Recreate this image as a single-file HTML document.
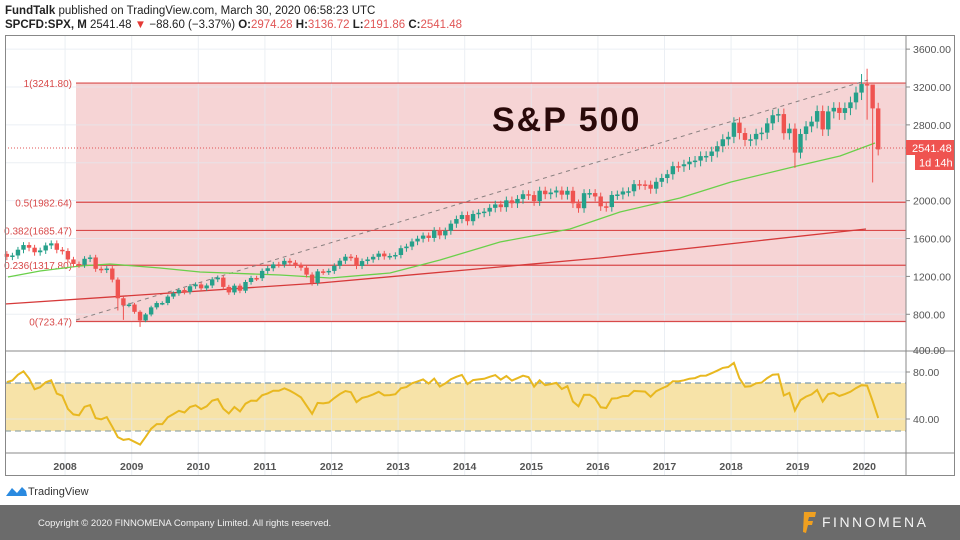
<!DOCTYPE html>
<html><head><meta charset="utf-8"><style>
html,body{margin:0;padding:0;background:#fff;width:960px;height:540px;overflow:hidden;font-family:"Liberation Sans",sans-serif}
svg{position:absolute;left:0;top:0}
</style></head><body>
<svg id="s" width="960" height="540" xmlns="http://www.w3.org/2000/svg" font-family="Liberation Sans, sans-serif">
<rect x="0" y="0" width="960" height="540" fill="#fff"/>
<text x="5" y="14" font-size="11.5" fill="#222"><tspan font-weight="bold">FundTalk</tspan> published on TradingView.com, March 30, 2020 06:58:23 UTC</text>
<text x="5" y="28" font-size="11.5" fill="#222"><tspan font-weight="bold">SPCFD:SPX, M</tspan>  2541.48 <tspan fill="#e53935">▼</tspan> −88.60 (−3.37%) <tspan font-weight="bold">O:</tspan><tspan fill="#e05555">2974.28</tspan> <tspan font-weight="bold">H:</tspan><tspan fill="#e05555">3136.72</tspan> <tspan font-weight="bold">L:</tspan><tspan fill="#e05555">2191.86</tspan> <tspan font-weight="bold">C:</tspan><tspan fill="#e05555">2541.48</tspan></text>
<rect x="76" y="83" width="830" height="238" fill="#f5cfd0" opacity="0.9"/>
<rect x="5" y="383" width="901" height="48" fill="#f7e3a8"/>
<g id="grid" opacity="0.7"></g>
<g id="fib"></g>
<line x1="5" y1="383" x2="906" y2="383" stroke="#7a9cb0" stroke-width="1.3" stroke-dasharray="6,4"/>
<line x1="5" y1="431" x2="906" y2="431" stroke="#9aa" stroke-width="1.3" stroke-dasharray="6,4"/>
<line x1="76" y1="320" x2="868" y2="80" stroke="#8a8080" stroke-width="1" stroke-dasharray="4,4"/>
<polyline fill="none" stroke="#d63a3a" stroke-width="1.3" points="5,304 320,283 600,258 866,229"/>
<polyline fill="none" stroke="#6ad04a" stroke-width="1.3" points="8,277 40,271 80,266 110,264 160,268 200,272 280,275 330,278 390,273 440,260 500,242 570,229 620,212 680,198 731,182 797,166 840,156 875,143"/>
<g id="candles"></g>
<polyline id="rsi" fill="none" stroke="#e8b820" stroke-width="2"/>
<line x1="5" y1="148" x2="906" y2="148" stroke="#e05555" stroke-width="1" stroke-dasharray="1,2"/>
<text x="492" y="131" font-size="34" font-weight="bold" fill="#2a0a0a" letter-spacing="2">S&amp;P 500</text>
<rect x="5.5" y="35.5" width="949" height="440" fill="none" stroke="#888" stroke-width="1"/>
<line x1="906" y1="35" x2="906" y2="475" stroke="#888"/>
<line x1="5" y1="351" x2="954" y2="351" stroke="#888"/>
<line x1="5" y1="453" x2="954" y2="453" stroke="#888"/>
<g id="axis" font-size="10.5" fill="#555"></g>
<rect x="906" y="140" width="48" height="15" fill="#ef5350"/>
<text x="912" y="152" font-size="11" fill="#fff">2541.48</text>
<rect x="915" y="155" width="39" height="15" fill="#ef5350"/>
<text x="919" y="166.5" font-size="11" fill="#fff">1d 14h</text>
<path d="M6,496 L12,488 L17,493 L22,487 L26,491 L27,496 Z" fill="#2a8ae0"/>
<text x="28" y="495" font-size="11" fill="#333">TradingView</text>
<rect x="0" y="505" width="960" height="35" fill="#6b6b6b"/>
<text x="38" y="526" font-size="9.5" fill="#f2f2f2">Copyright © 2020 FINNOMENA Company Limited. All rights reserved.</text>
<path d="M804,512 L816,512 L815,517 L809,517 L808,521 L813,521 L812,525 L808,525 L806,533 L803,532 Z" fill="#f0a020"/>
<text x="822" y="527" font-size="14" fill="#f4f4f4" letter-spacing="2.5">FINNOMENA</text>
</svg>
<script>
var NS="http://www.w3.org/2000/svg";
function el(p,t,a,txt){var e=document.createElementNS(NS,t);for(var k in a)e.setAttribute(k,a[k]);if(txt!=null)e.textContent=txt;document.getElementById(p).appendChild(e);return e;}
function py(p){return 87+(3200-p)*0.0947;}
function mx(i){return -1.5+5.55*i+2.8;}
var years=[2008,2009,2010,2011,2012,2013,2014,2015,2016,2017,2018,2019,2020];
years.forEach(function(y,k){var x=mx((y-2007)*12)-2.8;el("grid","line",{x1:x,y1:35,x2:x,y2:475,stroke:"#e3e9f0"});el("axis","text",{x:x,y:470,"text-anchor":"middle","font-weight":"bold"},y);});
[3600,3200,2800,2400,2000,1600,1200,800].forEach(function(p){var y=py(p);el("grid","line",{x1:5,y1:y,x2:906,y2:y,stroke:"#e3e9f0"});});
[3600,3200,2800,2000,1600,1200,800].forEach(function(p){var y=py(p);el("axis","line",{x1:906,y1:y,x2:910,y2:y,stroke:"#888"});el("axis","text",{x:913,y:y+4},p.toFixed(2));});
el("axis","text",{x:913,y:354},"400.00");
[80,40].forEach(function(v){var y=372+(80-v)*1.175;el("grid","line",{x1:5,y1:y,x2:906,y2:y,stroke:"#e3e9f0"});el("axis","line",{x1:906,y1:y,x2:910,y2:y,stroke:"#888"});el("axis","text",{x:913,y:y+4},v.toFixed(2));});
[[3241.8,"1(3241.80)"],[1982.64,"0.5(1982.64)"],[1685.47,"0.382(1685.47)"],[1317.8,"0.236(1317.80)"],[723.47,"0(723.47)"]].forEach(function(f){var y=py(f[0]);el("fib","line",{x1:76,y1:y,x2:906,y2:y,stroke:"#d84a4a","stroke-width":1.2});el("fib","text",{x:72,y:y+4,"text-anchor":"end","font-size":10,fill:"#d84a4a"},f[1]);});
var C=[1438,1407,1421,1482,1531,1503,1455,1474,1527,1549,1481,1468,
1379,1331,1323,1386,1400,1280,1267,1283,1166,969,896,903,
826,735,798,873,919,919,987,1021,1057,1036,1096,1115,
1074,1104,1169,1187,1089,1031,1102,1049,1141,1183,1181,1258,
1286,1327,1326,1364,1345,1321,1292,1219,1131,1253,1247,1258,
1312,1366,1408,1398,1310,1362,1379,1407,1441,1412,1416,1426,
1498,1515,1569,1598,1631,1606,1686,1633,1682,1757,1806,1848,
1783,1859,1872,1884,1924,1960,1931,2003,1972,2018,2068,2059,
1995,2105,2068,2086,2107,2063,2104,1972,1920,2079,2080,2044,
1940,1932,2060,2065,2097,2099,2174,2171,2168,2126,2199,2239,
2279,2364,2363,2384,2412,2423,2470,2472,2519,2575,2648,2674,
2824,2714,2641,2648,2705,2718,2816,2902,2914,2712,2760,2507,
2704,2784,2834,2946,2752,2942,2980,2926,2977,3038,3141,3231,
3226,2974,2541];
var lows={21:840,22:741,25:667,143:2346,157:2191.86,146:2722,156:2855};
var highs={157:3136.72,156:3393,155:3337};
for(var i=1;i<C.length;i++){
 var o=C[i-1],c=C[i];var hi=highs[i]||Math.max(o,c)*1.02;var lo=lows[i]||Math.min(o,c)*0.975;
 var x=mx(i);var col=c>=o?"#26a08a":"#ef5350";
 el("candles","line",{x1:x,y1:py(hi),x2:x,y2:py(lo),stroke:col,"stroke-width":1});
 var t=py(Math.max(o,c)),b=py(Math.min(o,c));el("candles","rect",{x:x-2.2,y:t,width:4.4,height:Math.max(1.5,b-t),fill:col});
}
var W=[1181,1204,1180,1156,1191,1191,1234,1220,1228,1207,1249,1248,1280,1280,1294,1310,1270,1270,1276,1303,1335,1377,1400,1418];
var all=W.concat(C);var ag=0,al=0,n=14,pts=[];
for(var j=1;j<all.length;j++){var d=all[j]-all[j-1];var g=d>0?d:0,l=d<0?-d:0;
 if(j<=n){ag+=g/n;al+=l/n;}else{ag=(ag*(n-1)+g)/n;al=(al*(n-1)+l)/n;}
 var k=j-W.length;if(k>=1){var r=al==0?100:100-100/(1+ag/al);pts.push(mx(k).toFixed(1)+","+(372+(80-r)*1.175).toFixed(1));}}
document.getElementById("rsi").setAttribute("points",pts.join(" "));
</script>
</body></html>
